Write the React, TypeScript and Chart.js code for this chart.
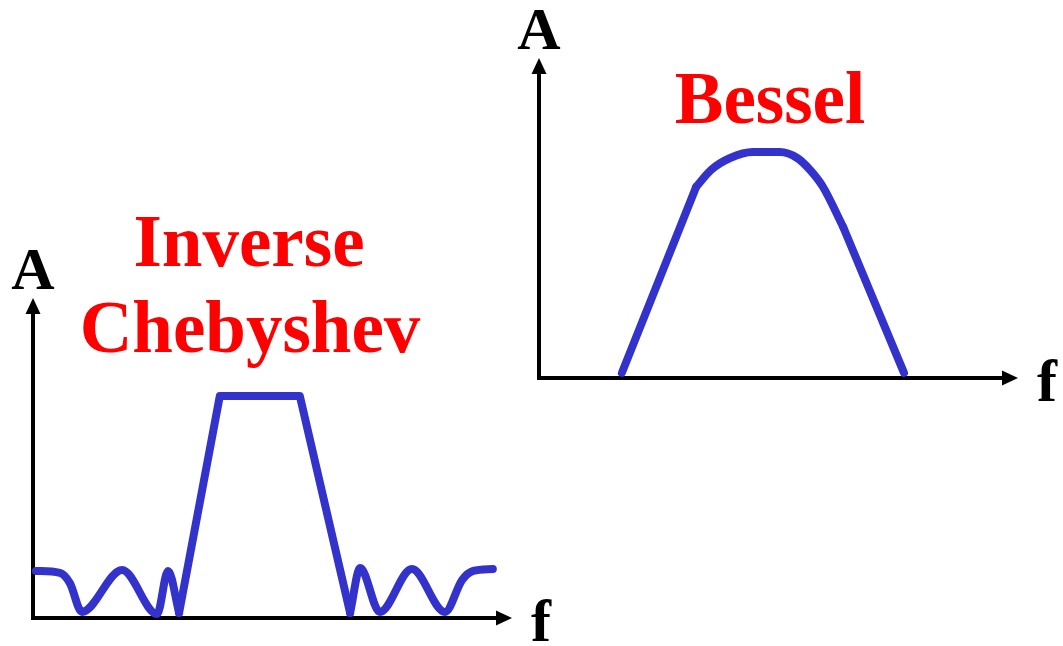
import React, { useEffect, useRef } from "react";
import { Chart, registerables } from "chart.js";

Chart.register(...registerables);

const W = 1063;
const H = 646;

// ---- Inverse Chebyshev (frequency 0-100, amplitude 0-100) ----
const chebStopLowF = [0.6, 5.6, 7.7, 10.2, 18.6, 25.9, 28.2, 30.5];
const chebStopLowA = [14.7, 14.1, 10.9, 1.9, 15.0, 1.25, 14.7, 1.6];
const chebPassF = [30.5, 39.0, 55.7, 66.2];
const chebPassA = [1.6, 69.4, 69.4, 1.6];
const chebStopHighF = [66.2, 68.3, 72.4, 79.1, 86.0, 89.6, 91.9, 96.0];
const chebStopHighA = [1.6, 15.6, 1.9, 15.3, 1.9, 11.9, 14.7, 15.3];

// ---- Bessel ----
const besselRiseF = [17.3, 32.8];
const besselRiseA = [1.6, 59.7];
const besselTopF = [32.8, 35.9, 39.9, 44.7, 50.3, 53.9, 56.6, 59.3, 63.5];
const besselTopA = [59.7, 65.0, 68.75, 70.6, 70.6, 68.75, 65.0, 59.7, 47.2];
const besselFallF = [63.5, 76.2];
const besselFallA = [47.2, 1.6];

// ---- Text ----
const chebTitle = ["Inverse", "Chebyshev"];
const besselTitle = ["Bessel"];
const yAxisLabel = "A";
const xAxisLabel = "f";

const LINE_COLOR = "rgb(51,51,204)";
const SERIF = '"Liberation Serif", "Times New Roman", Times, serif';

type Seg = { f: number[]; a: number[]; smooth: boolean };
type TitleLine = { text: string; x: number; y: number };

function pts(f: number[], a: number[]) {
  return f.map((v, i) => ({ x: v, y: a[i] }));
}

function Panel(props: {
  padding: { left: number; right: number; top: number; bottom: number };
  segs: Seg[];
  title: TitleLine[];
}) {
  const ref = useRef<HTMLCanvasElement | null>(null);
  useEffect(() => {
    if (!ref.current) return;
    const axesPlugin = {
      id: "arrowAxes",
      beforeDatasetsDraw(chart: any) {
        const { ctx } = chart;
        const xs = chart.scales.x;
        const ys = chart.scales.y;
        const x0 = xs.getPixelForValue(0);
        const x1 = xs.getPixelForValue(100);
        const y0 = ys.getPixelForValue(0);
        const y1 = ys.getPixelForValue(100);
        ctx.save();
        ctx.strokeStyle = "#000";
        ctx.fillStyle = "#000";
        ctx.lineWidth = 4;
        ctx.lineCap = "butt";
        ctx.beginPath();
        ctx.moveTo(x0, y0 + 2);
        ctx.lineTo(x0, y1 + 10);
        ctx.moveTo(x0 - 2, y0);
        ctx.lineTo(x1 - 10, y0);
        ctx.stroke();
        ctx.beginPath();
        ctx.moveTo(x1, y0);
        ctx.lineTo(x1 - 16, y0 - 7.5);
        ctx.lineTo(x1 - 16, y0 + 7.5);
        ctx.closePath();
        ctx.fill();
        ctx.beginPath();
        ctx.moveTo(x0, y1);
        ctx.lineTo(x0 - 7.5, y1 + 16);
        ctx.lineTo(x0 + 7.5, y1 + 16);
        ctx.closePath();
        ctx.fill();
        ctx.restore();
      },
      afterDraw(chart: any) {
        const { ctx } = chart;
        const xs = chart.scales.x;
        const ys = chart.scales.y;
        const x0 = xs.getPixelForValue(0);
        const x1 = xs.getPixelForValue(100);
        const y0 = ys.getPixelForValue(0);
        const y1 = ys.getPixelForValue(100);
        ctx.save();
        ctx.fillStyle = "#000";
        ctx.textBaseline = "alphabetic";
        ctx.font = `bold 60px ${SERIF}`;
        ctx.textAlign = "center";
        ctx.fillText(yAxisLabel, x0, y1 - 9);
        ctx.textAlign = "left";
        ctx.fillText(xAxisLabel, x1 + 19, y0 + 23);
        ctx.fillStyle = "#ff0000";
        ctx.font = `bold 73px ${SERIF}`;
        ctx.textAlign = "center";
        props.title.forEach((t) => ctx.fillText(t.text, t.x, t.y));
        ctx.restore();
      },
    };
    const chart = new Chart(ref.current, {
      type: "line",
      data: {
        datasets: props.segs.map((s) => ({
          data: pts(s.f, s.a),
          borderColor: LINE_COLOR,
          borderWidth: 8,
          pointRadius: 0,
          fill: false,
          tension: s.smooth ? 0.4 : 0,
          cubicInterpolationMode: s.smooth ? "monotone" : "default",
          borderCapStyle: "round",
          borderJoinStyle: "round",
          clip: 10,
        })) as any,
      },
      options: {
        animation: false,
        responsive: false,
        events: [],
        layout: { padding: props.padding },
        plugins: {
          legend: { display: false },
          tooltip: { enabled: false },
          title: { display: false },
        },
        scales: {
          x: { type: "linear", min: 0, max: 100, display: false },
          y: { type: "linear", min: 0, max: 100, display: false },
        },
      },
      plugins: [axesPlugin as any],
    });
    return () => chart.destroy();
  }, []);
  return (
    <canvas
      ref={ref}
      width={W}
      height={H}
      style={{ position: "absolute", left: 0, top: 0, width: W, height: H }}
    />
  );
}

export default function App() {
  return (
    <div
      style={{
        position: "fixed",
        left: 0,
        top: 0,
        width: W,
        height: H,
        background: "#fff",
        overflow: "hidden",
      }}
    >
      <Panel
        padding={{ left: 33, right: W - 512, top: 298, bottom: H - 618 }}
        segs={[
          { f: chebStopLowF, a: chebStopLowA, smooth: true },
          { f: chebPassF, a: chebPassA, smooth: false },
          { f: chebStopHighF, a: chebStopHighA, smooth: true },
        ]}
        title={[
          { text: chebTitle[0], x: 249, y: 266 },
          { text: chebTitle[1], x: 250, y: 352 },
        ]}
      />
      <Panel
        padding={{ left: 539, right: W - 1018, top: 58, bottom: H - 378 }}
        segs={[
          { f: besselRiseF, a: besselRiseA, smooth: false },
          { f: besselTopF, a: besselTopA, smooth: true },
          { f: besselFallF, a: besselFallA, smooth: false },
        ]}
        title={[{ text: besselTitle[0], x: 770, y: 123 }]}
      />
    </div>
  );
}
